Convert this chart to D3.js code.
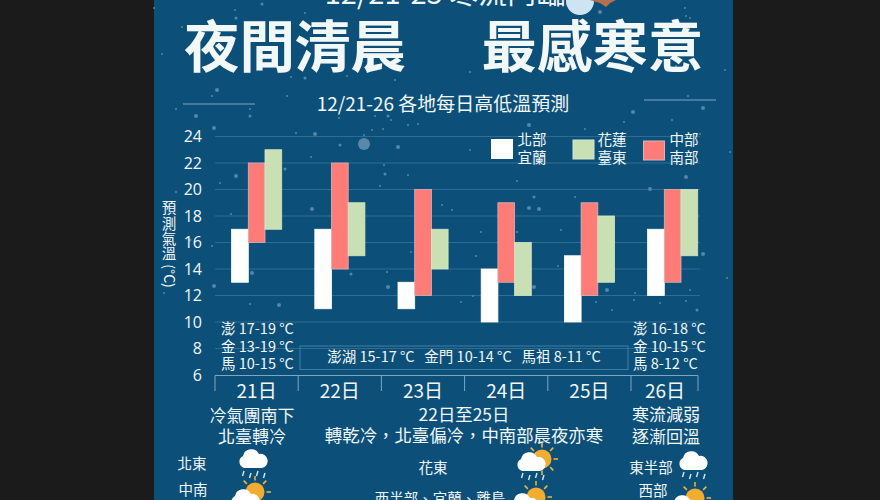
<!DOCTYPE html>
<html>
<head>
<meta charset="utf-8">
<script src="https://cdn.jsdelivr.net/npm/d3@7"></script>
<style>
html, body { margin: 0; padding: 0; background: #1b1b1b; overflow: hidden; }
text { font-family: "Noto Sans CJK TC", "Open Sans", sans-serif; fill: #f2f7f8; }
.tick line, .domain { stroke: #7fa6c0; }
</style>
</head>
<body>
<div id="chart"></div>
<script>
// chart values
var days = ["21日", "22日", "23日", "24日", "25日", "26日"];
var northLow = [13, 11, 11, 10, 10, 12];
var northHigh = [17, 17, 13, 14, 15, 17];
var southLow = [16, 14, 12, 13, 12, 13];
var southHigh = [22, 22, 20, 19, 19, 20];
var eastLow = [17, 15, 14, 12, 13, 15];
var eastHigh = [23, 19, 17, 16, 18, 20];
var yTicks = [6, 8, 10, 12, 14, 16, 18, 20, 22, 24];

var islandsLeft = ["澎 17-19 °C", "金 13-19 °C", "馬 10-15 °C"];
var islandsRight = ["澎 16-18 °C", "金 10-15 °C", "馬 8-12 °C"];
var islandsMid = "澎湖 15-17 °C\u00a0\u00a0\u00a0金門 10-14 °C\u00a0\u00a0\u00a0馬祖 8-11 °C";

// background specks
var stars = [[262,4,1.5],[154,8,1],[235,10,1],[305,13,1],[236,18,1.5],[182,27,1],[162,54,1],[305,78,1.5],[291,77,1],[217,90,2],[212,96,1],
  [176,109,1],[250,109,1],[250,116,1.5],[196,116,2],[388,116,1.5],[296,133,1],[214,128,2],[315,134,2],[339,118,1],[408,125,1],[418,124,1],
  [398,147,2],[391,120,1],[375,116,1],[340,145,1.5],[383,129,1],[364,135,1],[372,130,1],[408,175,1],[384,165,1],[380,186,1],[385,174,1.5],
  [236,176,2],[220,183,1],[311,157,1],[285,169,1.5],[231,214,1],[312,209,2],[176,192,1],[247,243,1],[212,246,1],[190,240,1.5],[214,286,2],
  [164,293,1],[250,304,1],[279,305,2],[252,273,2],[351,274,1.5],[322,278,2],[411,252,1],[388,287,2],[387,272,1],[407,283,1],[440,246,1],
  [428,192,1],[442,205,1],[443,230,1],[452,210,1],[470,150,1],[517,181,1],[529,208,2],[507,143,1],[529,125,2],[633,112,2],[624,122,1],
  [585,129,1],[583,6,1],[600,12,2],[685,8,1],[686,16,1],[688,96,1],[703,108,2],[672,120,1],[700,134,1],[730,152,1],[602,164,1.5],[686,177,2],
  [650,189,2],[575,197,1],[534,197,1.5],[539,209,2],[517,232,1],[561,230,1],[481,232,1],[584,245,1],[518,256,1],[558,266,1],[476,256,1],
  [461,302,1],[473,296,1],[534,287,2],[607,290,2],[635,293,1],[703,254,2],[727,278,1],[690,290,1],[660,303,1],[686,301,1],[697,310,1.5],
  [685,327,1],[612,310,1],[596,302,1],[634,300,1],[725,70,1],[676,66,1],[690,18,1],[515,36,1],[470,72,1],[395,80,1],[347,76,1],[287,96,1]];

var svgWidth = 880;
var svgHeight = 500;

var svg = d3.select("#chart")
  .append("svg")
  .attr("width", svgWidth)
  .attr("height", svgHeight)
  .style("display", "block");

// blue panel
svg.append("rect")
  .attr("x", 154).attr("y", 0)
  .attr("width", 579).attr("height", 500)
  .attr("fill", "#0c5079");

svg.selectAll("circle.star")
  .data(stars)
  .enter()
  .append("circle")
  .attr("class", "star")
  .attr("cx", d => d[0])
  .attr("cy", d => d[1])
  .attr("r", d => d[2])
  .attr("fill", "#6f9fc0")
  .attr("opacity", 0.7);
svg.append("circle").attr("cx", 364).attr("cy", 144).attr("r", 6).attr("fill", "#5a88a8");

function label(str, x, y, size, opts) {
  opts = opts || {};
  return svg.append("text")
    .attr("x", x)
    .attr("y", y)
    .attr("dy", "0.36em")
    .attr("text-anchor", opts.anchor || "middle")
    .attr("font-size", size)
    .attr("font-weight", opts.weight || 400)
    .text(str);
}

// heading, cut by the top of the frame
label("12/21-25 寒流鬥臨", 445, -6, 29);
svg.append("circle").attr("cx", 580).attr("cy", 1).attr("r", 14).attr("fill", "#cfe4f2");
svg.append("path").attr("d", "M590 0L616 0L610 3L606 7L600 3Z").attr("fill", "#b5704f");
label("夜間清晨", 295, 47, 55.5, {weight: 700});
label("最感寒意", 592.5, 47, 55.5, {weight: 700});
label("12/21-26 各地每日高低溫預測", 443, 104, 19);
svg.append("line").attr("x1", 183).attr("x2", 255).attr("y1", 104).attr("y2", 104).attr("stroke", "#7fa6c0");
svg.append("line").attr("x1", 644).attr("x2", 716).attr("y1", 100).attr("y2", 100).attr("stroke", "#7fa6c0");

// scales
var x = d3.scaleBand()
  .domain(days)
  .range([215, 714.2])
  .padding(0);

var y = d3.scaleLinear()
  .domain([6, 24])
  .range([375, 136.5]);

// y axis + grid
var yAxis = svg.append("g")
  .attr("transform", "translate(205,0)")
  .call(d3.axisLeft(y).tickValues(yTicks).tickSize(0).tickPadding(3));
yAxis.select(".domain").remove();
yAxis.selectAll("text")
  .attr("font-size", 16)
  .style("font-family", '"Open Sans", sans-serif');

svg.append("g")
  .selectAll("line")
  .data(yTicks.filter(d => d > 6))
  .enter()
  .append("line")
  .attr("x1", 215)
  .attr("x2", 700)
  .attr("y1", d => y(d))
  .attr("y2", d => y(d))
  .attr("stroke", "#4d84a6")
  .attr("stroke-width", 1)
  .attr("opacity", 0.55);

// y title: stacked characters, unit on its side
var yTitleChars = ["預", "測", "氣", "溫"];
yTitleChars.forEach(function(c, i) { label(c, 169, 208 + i * 15.3, 14.5); });
svg.append("text")
  .attr("transform", "translate(169,276) rotate(90)")
  .attr("text-anchor", "middle")
  .attr("dy", "0.36em")
  .attr("font-size", 14)
  .text("(°C)");

// bars
var barW = 16.7;
var series = [
  {low: northLow, high: northHigh, fill: "#ffffff", stroke: "#ffffff", off: 16.6},
  {low: southLow, high: southHigh, fill: "#fd7c78", stroke: "#d9b3b8", off: 33.3},
  {low: eastLow, high: eastHigh, fill: "#c9dfb4", stroke: "#d6e6c8", off: 50}
];

series.forEach(function(s) {
  svg.append("g")
    .selectAll("rect")
    .data(days)
    .enter()
    .append("rect")
    .attr("x", d => x(d) + s.off)
    .attr("y", (d, i) => y(s.high[i]))
    .attr("width", barW)
    .attr("height", (d, i) => y(s.low[i]) - y(s.high[i]))
    .attr("fill", s.fill)
    .attr("stroke", s.stroke)
    .attr("stroke-width", 0.8);
});

// legend
var legendItems = [
  {names: ["北部", "宜蘭"], fill: "#ffffff", stroke: "#ffffff", x: 491.5, y: 139.5, tx: 532},
  {names: ["花蓮", "臺東"], fill: "#c9dfb4", stroke: "#d6e6c8", x: 573, y: 140, tx: 612},
  {names: ["中部", "南部"], fill: "#fd7c78", stroke: "#d9b3b8", x: 643.5, y: 141, tx: 684}
];
legendItems.forEach(function(l) {
  svg.append("rect")
    .attr("x", l.x).attr("y", l.y)
    .attr("width", 21).attr("height", 19)
    .attr("fill", l.fill).attr("stroke", l.stroke);
  label(l.names[0], l.tx, 140, 14.5);
  label(l.names[1], l.tx, 158, 14.5);
});

// day bracket under the chart
var bracket = svg.append("g");
bracket.append("path")
  .attr("d", d3.line()([[x(days[0]), 391], [x(days[0]), 375.5], [698, 375.5], [698, 391]]))
  .attr("fill", "none")
  .attr("stroke", "#7fa6c0");
bracket.selectAll("line")
  .data(days.slice(1))
  .enter()
  .append("line")
  .attr("x1", d => x(d))
  .attr("x2", d => x(d))
  .attr("y1", 375.5)
  .attr("y2", 391)
  .attr("stroke", "#7fa6c0");
days.forEach(function(d, i) {
  var cx = i == 5 ? 665 : x(d) + x.bandwidth() / 2;
  label(d, cx, 391, 19);
});

// island temperatures
islandsLeft.forEach(function(t, i) { label(t, 221, 329 + i * 17.5, 14.5, {anchor: "start"}); });
islandsRight.forEach(function(t, i) { label(t, 633, 329 + i * 17.5, 14.5, {anchor: "start"}); });
svg.append("rect")
  .attr("x", 300).attr("y", 346)
  .attr("width", 328).attr("height", 23.5)
  .attr("fill", "none").attr("stroke", "#3f7ea3");
label(islandsMid, 464, 357, 14.5);

// notes
label("冷氣團南下", 252, 416, 17);
label("北臺轉冷", 252, 437, 17);
label("22日至25日", 464, 415, 17.4);
label("轉乾冷，北臺偏冷，中南部晨夜亦寒", 464, 436, 17.4);
label("寒流減弱", 666, 415, 17);
label("逐漸回溫", 666, 437, 17);

// regions
label("北東", 192, 464, 14.5);
label("中南", 193, 490, 14.5);
label("花東", 433, 468, 14.5);
label("西半部、宜蘭、離島", 440, 499, 14.5);
label("東半部", 651, 468, 14.5);
label("西部", 653, 491, 14.5);

// weather icons
function cloud(g, cx, cy) {
  g.append("path")
    .attr("transform", `translate(${cx},${cy})`)
    .attr("d", "M-9 8 A6.5 6.5 0 0 1 -10 -4 A8.5 8.5 0 0 1 6 -6 A7 7 0 0 1 9 8 Z")
    .attr("fill", "#ffffff");
}
function rain(g, cx, cy) {
  [-10, -3, 4, 11].forEach(function(dx, i) {
    var dy = i % 2 ? 2 : 0;
    g.append("line")
      .attr("x1", cx + dx + 1).attr("x2", cx + dx - 0.5)
      .attr("y1", cy + dy).attr("y2", cy + dy + 5)
      .attr("stroke", "#dbe8f0").attr("stroke-width", 1.4);
  });
}
function sun(g, cx, cy) {
  d3.range(0, 360, 45).forEach(function(a) {
    var r = a * Math.PI / 180;
    g.append("line")
      .attr("x1", cx + Math.cos(r) * 11.5).attr("x2", cx + Math.cos(r) * 16)
      .attr("y1", cy + Math.sin(r) * 11.5).attr("y2", cy + Math.sin(r) * 16)
      .attr("stroke", "#e9b53d").attr("stroke-width", 1.6);
  });
  g.append("circle").attr("cx", cx).attr("cy", cy).attr("r", 9.5).attr("fill", "#f0ad31");
}
var icons = svg.append("g");
cloud(icons, 253, 460);
rain(icons, 253, 471);
sun(icons, 255, 492);
cloud(icons, 245, 500);
sun(icons, 542, 459);
cloud(icons, 531, 463);
rain(icons, 532, 473);
sun(icons, 536, 497);
cloud(icons, 524, 504);
cloud(icons, 693, 462);
rain(icons, 693, 472);
sun(icons, 695, 498);
cloud(icons, 684, 506);
</script>
</body>
</html>
